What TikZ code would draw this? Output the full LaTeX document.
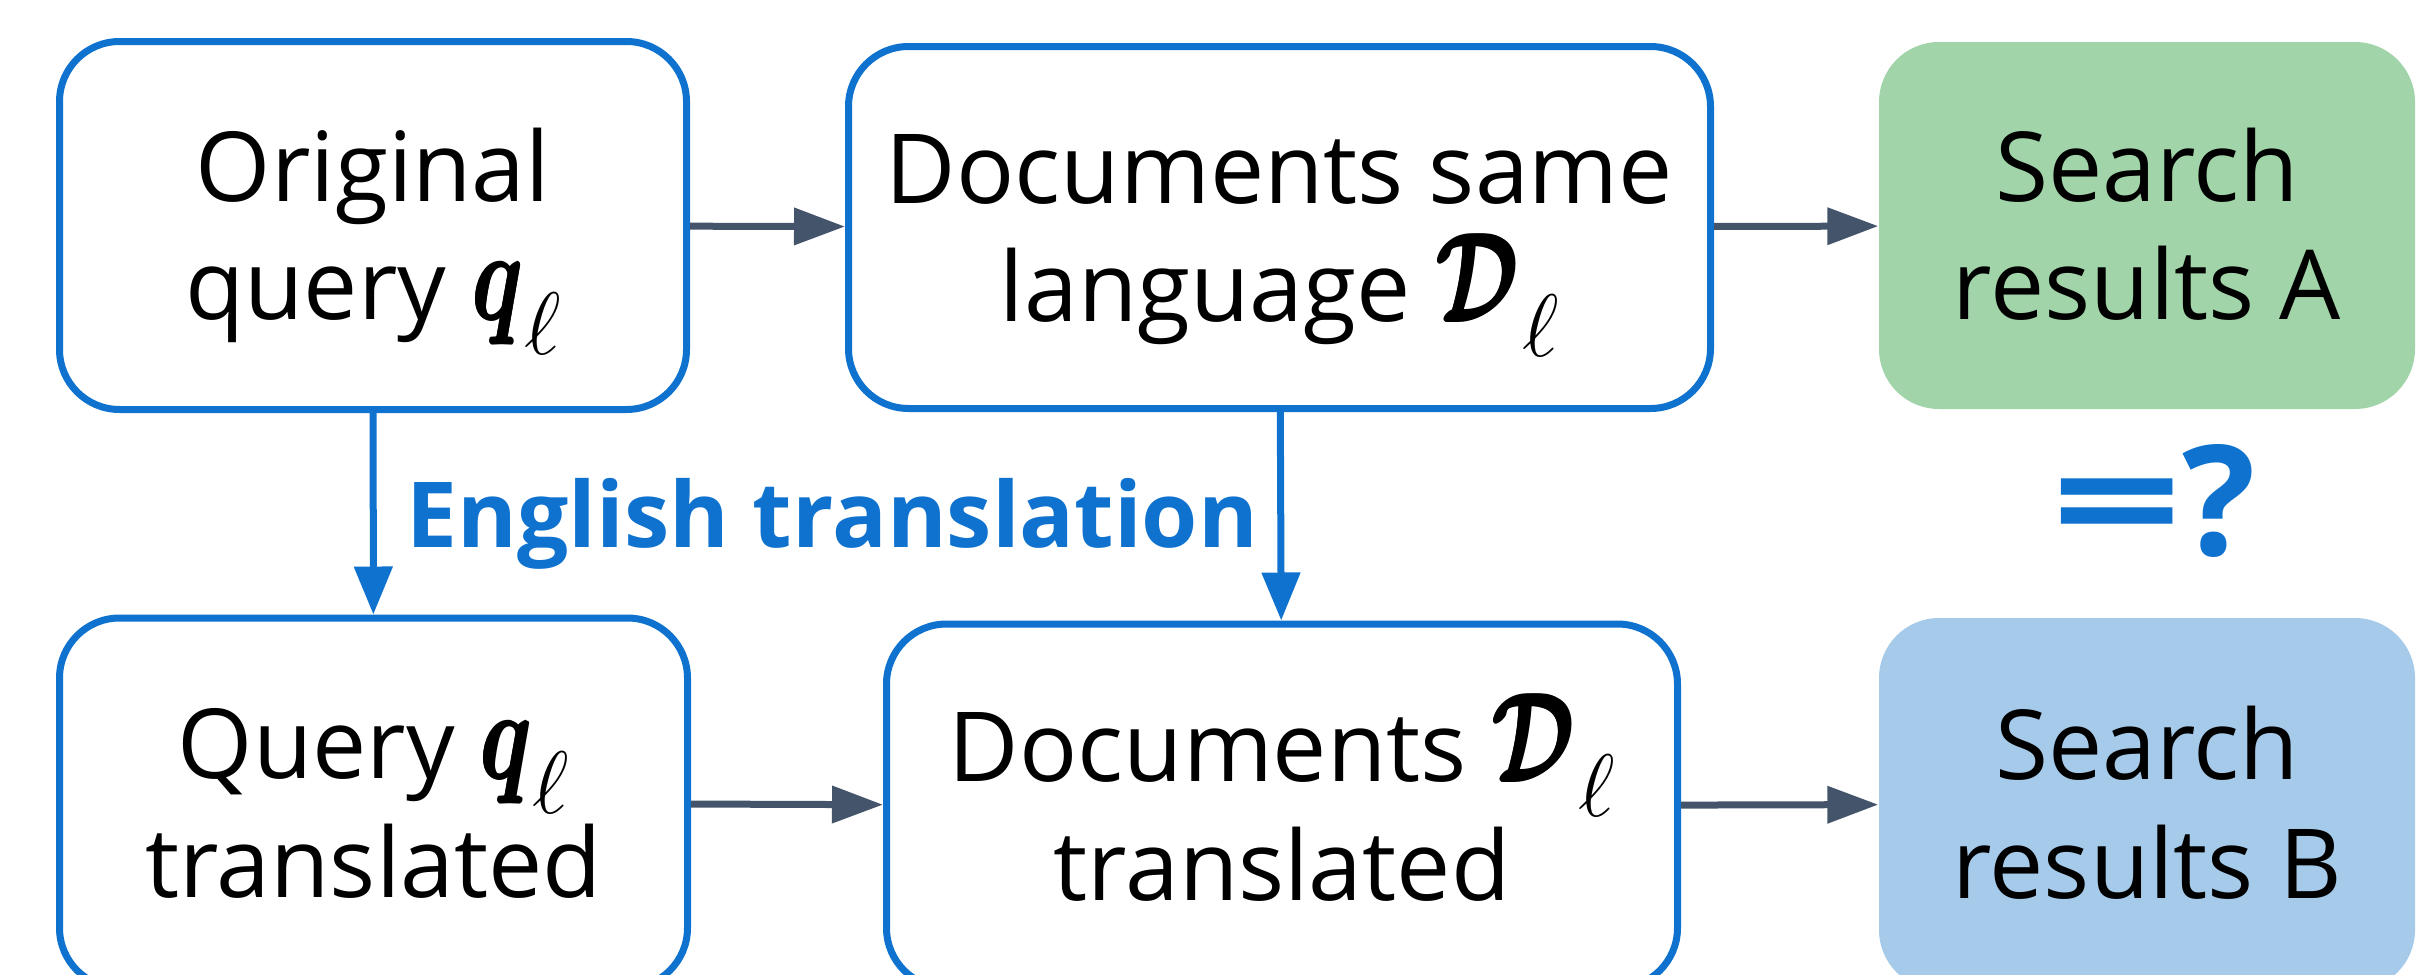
\RequirePackage{fix-cm}
\documentclass[tikz,border=0pt]{standalone}
\usepackage{fontspec}
\setmainfont{Open Sans}
\usepackage{amsmath,bm}
\usetikzlibrary{arrows.meta}

\definecolor{flowblue}{RGB}{14,114,206}
\definecolor{arrowgrey}{HTML}{44546A}
\definecolor{resgreen}{RGB}{161,212,168}
\definecolor{resblue}{RGB}{166,202,234}

% struts that fix the height of the first line and the depth of the last one
\newcommand\linetop{\rule{0pt}{33pt}}
\newcommand\linebot{\rule[-12pt]{0pt}{12pt}}
% narrow, heavy math letter: overprinted copies thicken the stroke
\newcommand\boldglyph[1]{\scalebox{0.7}[1]{\rlap{$#1$}\rlap{\raisebox{0.5pt}{$#1$}}\rlap{\hspace{0.4pt}\raisebox{-0.3pt}{$#1$}}\hspace{0.7pt}$#1$}}
% the lowered index letter
\newcommand\sublet{\raisebox{-10.5pt}{$\scriptstyle\ell$}}
% symbols set larger than the surrounding text
\newcommand\bigsym[1]{{\fontsize{38pt}{38pt}\selectfont #1}}

\tikzset{
  boxtext/.style={align=center, inner sep=0pt, font=\fontsize{29pt}{35.6pt}\selectfont},
  stepbox/.style={boxtext, draw=flowblue, line width=2.1pt, rounded corners=18pt, fill=white},
  resultbox/.style={boxtext, rounded corners=18pt},
  greyarrow/.style={draw=arrowgrey, line width=2.1pt, -{Triangle[length=15.3pt, width=10.8pt]}},
  bluearrow/.style={draw=flowblue, line width=2.1pt, -{Triangle[length=14.4pt, width=11.2pt]}},
  bluelabel/.style={text=flowblue, anchor=base, inner sep=0pt}
}

\begin{document}
\begin{tikzpicture}[x=0.3pt, y=-0.3pt]
\useasboundingbox (0,0) rectangle (2428,975);
\clip (0,0) rectangle (2428,975);

% top row
\node[stepbox, minimum width=188.1pt, minimum height=110.4pt] (orig) at (373,225.5)
  {\linetop Original\\query \bigsym{\boldglyph{\bm{q}}\sublet}\linebot};
\node[stepbox, minimum width=258.6pt, minimum height=108.6pt] (same) at (1279.5,227.5)
  {\linetop Documents same\\language \bigsym{\boldglyph{\bm{\mathcal{D}}}\hspace{1pt}\sublet}\linebot};
\node[resultbox, fill=resgreen, minimum width=160.8pt, minimum height=110.1pt] (resa) at (2147,225.5)
  {\linetop Search\\results A\linebot};

% bottom row
\node[stepbox, minimum width=188.4pt, minimum height=111pt] (qtr) at (373.5,803)
  {\linetop Query \bigsym{\boldglyph{\bm{q}}\sublet}\\translated\linebot};
\node[stepbox, minimum width=237.3pt, minimum height=109.2pt] (dtr) at (1282,806)
  {\linetop Documents \bigsym{\boldglyph{\bm{\mathcal{D}}}\hspace{1pt}\sublet}\\translated\linebot};
\node[resultbox, fill=resblue, minimum width=160.8pt, minimum height=111.6pt] (resb) at (2147,804)
  {\linetop Search\\results B\linebot};

% connectors
\draw[greyarrow] (orig) -- (same);
\draw[greyarrow] (same) -- (resa);
\draw[greyarrow] (qtr) -- (dtr);
\draw[greyarrow] (dtr) -- (resb);
\draw[bluearrow] (orig) -- (qtr);
\draw[bluearrow] (same) -- (dtr);

% labels
\node[bluelabel, font=\bfseries\fontsize{27.3pt}{27.3pt}\selectfont] (engl) at (832.5,547) {English translation};
\node[bluelabel, font=\bfseries\fontsize{46pt}{46pt}\selectfont] (neq) at (2153.5,555) {\scalebox{1.5}[1]{=}?};
\end{tikzpicture}
\end{document}
